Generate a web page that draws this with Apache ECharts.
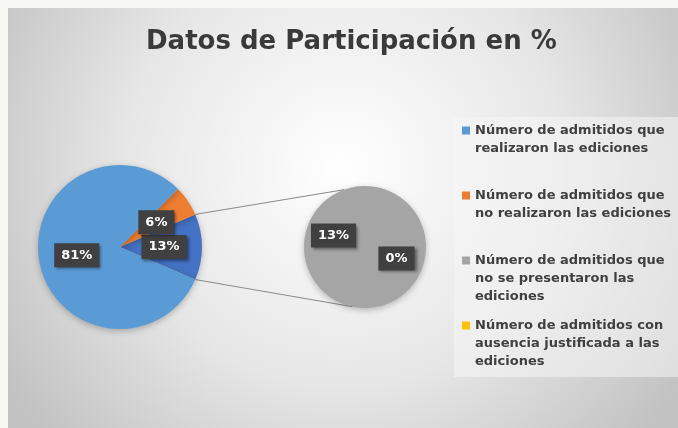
<!DOCTYPE html>
<html>
<head>
<meta charset="utf-8">
<script src="https://cdn.jsdelivr.net/npm/echarts@6/dist/echarts.min.js"></script>
<style>
  html, body { margin: 0; padding: 0; background: #f6f7f2; width: 678px; height: 428px; overflow: hidden; }
  #chart { position: absolute; left: 8px; top: 8px; width: 670px; height: 420px; }
</style>
</head>
<body>
<div id="chart"></div>
<script>
// ---- data ----
const chartTitle = 'Datos de Participación en %';
const mainCategories = [
  'Número de admitidos que realizaron las ediciones',
  'Número de admitidos que no realizaron las ediciones'
];
const mainValues = [81, 6];
const secondaryCategories = [
  'Número de admitidos que no se presentaron las ediciones',
  'Número de admitidos con ausencia justificada a las ediciones'
];
const secondaryValues = [13, 0];
const legendLabels = [
  'Número de admitidos que\nrealizaron las ediciones',
  'Número de admitidos que\nno realizaron las ediciones',
  'Número de admitidos que\nno se presentaron las\nediciones',
  'Número de admitidos con\nausencia justificada a las\nediciones'
];
const otherName = 'Otros';

// ---- styles ----
const mainColors = ['#5b9bd5', '#ed7d31'];
const otherColor = '#4472c4';
const secondaryColors = ['#a5a5a5', '#ffc000'];

const chart = echarts.init(document.getElementById('chart'));

const otherValue = secondaryValues.reduce((a, b) => a + b, 0);
const total = mainValues.reduce((a, b) => a + b, 0) + otherValue;
const halfOther = otherValue / total * 180;

const mainCenter = [112, 239], mainR = 82;
const secCenter = [357, 239], secR = 61;

const labelStyle = {
  show: true,
  position: 'inside',
  formatter: '{c}%',
  color: '#ffffff',
  fontFamily: 'DejaVu Sans',
  fontWeight: 'bold',
  fontSize: 13,
  backgroundColor: '#404040',
  padding: [6, 7, 5, 7],
  shadowBlur: 3,
  shadowOffsetX: 2,
  shadowOffsetY: 2,
  shadowColor: 'rgba(0,0,0,0.45)'
};

const mainData = [
  { name: otherName, value: otherValue, itemStyle: { color: otherColor } },
  { name: mainCategories[1], value: mainValues[1], itemStyle: { color: mainColors[1] } },
  { name: mainCategories[0], value: mainValues[0], itemStyle: { color: mainColors[0] } }
];
const secData = [
  { name: secondaryCategories[1], value: secondaryValues[1], itemStyle: { color: secondaryColors[1] } },
  { name: secondaryCategories[0], value: secondaryValues[0], itemStyle: { color: secondaryColors[0] } }
];

const allNames = mainCategories.concat(secondaryCategories);
const legendTops = [113.5, 178.5, 243.5, 308.5];
const legends = allNames.map((name, i) => {
  const lines = legendLabels[i].split('\n').length;
  const h = lines * 18;
  return {
    data: [name],
    orient: 'vertical',
    left: 454,
    top: legendTops[i],
    padding: 0,
    itemWidth: 8,
    itemHeight: h,
    icon: 'path://M0,0L8,0M0,5h8v8h-8zM0,' + h + 'L8,' + h,
    itemStyle: { borderWidth: 0 },
    selectedMode: false,
    formatter: () => legendLabels[i],
    textStyle: {
      fontFamily: 'DejaVu Sans',
      fontWeight: 'bold',
      fontSize: 13,
      lineHeight: 18,
      color: '#404040'
    }
  };
});

const rad = Math.PI / 180;
const p1 = [mainCenter[0] + mainR * Math.cos(halfOther * rad), mainCenter[1] - mainR * Math.sin(halfOther * rad)];
const p2 = [mainCenter[0] + mainR * Math.cos(halfOther * rad), mainCenter[1] + mainR * Math.sin(halfOther * rad)];
const q1 = [secCenter[0] + secR * Math.cos(110 * rad), secCenter[1] - secR * Math.sin(110 * rad)];
const q2 = [secCenter[0] + secR * Math.cos(102 * rad), secCenter[1] + secR * Math.sin(102 * rad)];

const option = {
  backgroundColor: {
    type: 'radial', x: 0.5, y: 0.38, r: 0.95,
    colorStops: [
      { offset: 0, color: '#ffffff' },
      { offset: 0.55, color: '#e6e6e6' },
      { offset: 1, color: '#c2c2c2' }
    ]
  },
  animation: false,
  title: {
    text: chartTitle,
    left: 133,
    top: 16,
    textStyle: {
      fontFamily: 'DejaVu Sans',
      fontWeight: 'bold',
      fontSize: 26,
      color: '#3a3a3a'
    }
  },
  legend: legends,
  graphic: [
    {
      type: 'rect', z: -1, silent: true,
      shape: { x: 446, y: 109, width: 224, height: 260 },
      style: { fill: 'rgba(245,245,245,0.55)' }
    },
    {
      type: 'line', silent: true, z: 1,
      shape: { x1: p1[0], y1: p1[1], x2: q1[0], y2: q1[1] },
      style: { stroke: '#8a8a8a', lineWidth: 1 }
    },
    {
      type: 'line', silent: true, z: 1,
      shape: { x1: p2[0], y1: p2[1], x2: q2[0], y2: q2[1] },
      style: { stroke: '#8a8a8a', lineWidth: 1 }
    }
  ],
  series: [
    {
      type: 'pie',
      center: mainCenter,
      radius: mainR,
      startAngle: -halfOther,
      clockwise: false,
      data: mainData,
      label: labelStyle,
      labelLine: { show: false },
      emphasis: { disabled: true },
      itemStyle: { borderWidth: 0, shadowBlur: 6, shadowColor: 'rgba(0,0,0,0.25)', shadowOffsetY: 2 }
    },
    {
      type: 'pie',
      center: secCenter,
      radius: secR,
      startAngle: -20,
      clockwise: false,
      data: secData,
      label: labelStyle,
      labelLine: { show: false },
      emphasis: { disabled: true },
      itemStyle: { borderWidth: 0, shadowBlur: 6, shadowColor: 'rgba(0,0,0,0.25)', shadowOffsetY: 2 }
    }
  ]
};
chart.setOption(option);
</script>
</body>
</html>
